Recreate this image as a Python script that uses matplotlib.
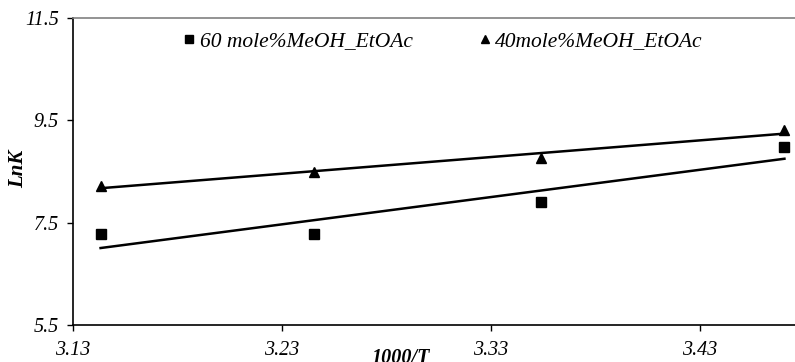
import numpy as np
import matplotlib
matplotlib.use('Agg')
import matplotlib.pyplot as plt

# data
inv_T = [3.1432, 3.2451, 3.3540, 3.4704]
lnk_60 = [7.27, 7.28, 7.90, 8.98]
lnk_40 = [8.22, 8.49, 8.76, 9.31]
x_ticks = [3.13, 3.23, 3.33, 3.43]
y_ticks = [5.5, 7.5, 9.5, 11.5]

plt.rcParams['font.family'] = 'Liberation Serif'

fig = plt.figure(figsize=(7.95, 3.62), dpi=100)
ax = fig.add_axes([73/795, 1-325/362, (795-73)/795, (325-18)/362])

ax.plot(inv_T, lnk_60, 's', color='black', markersize=7, label='60 mole%MeOH_EtOAc')
ax.plot(inv_T, lnk_40, '^', color='black', markersize=7, label='40mole%MeOH_EtOAc')

# linear trend lines
xx = np.array([inv_T[0], inv_T[-1]])
p60 = np.polyfit(inv_T, lnk_60, 1)
p40 = np.polyfit(inv_T, lnk_40, 1)
ax.plot(xx, np.polyval(p60, xx), color='black', lw=1.8)
ax.plot(xx, np.polyval(p40, xx), color='black', lw=1.8)

ax.set_xlim(3.13, 3.13 + (795-73)/2090)
ax.set_ylim(5.5, 11.5)
ax.set_xticks(x_ticks)
ax.set_yticks(y_ticks)
ax.set_xticklabels(['%.2f' % v for v in x_ticks], style='italic', fontsize=14.5)
ax.set_yticklabels(['%.1f' % v for v in y_ticks], style='italic', fontsize=14.5)
ax.tick_params(axis='y', direction='out', length=4.3, width=1, color='black', pad=6)
ax.tick_params(axis='x', direction='out', length=4.3, width=1, color='black', pad=7)
ax.spines['right'].set_visible(False)
ax.spines['top'].set_color('#808080')
ax.spines['top'].set_linewidth(1.2)
ax.spines['left'].set_linewidth(1.2)
ax.spines['bottom'].set_linewidth(1.2)

fig.text(18/795, 1-169/362, 'LnK', rotation=90, fontsize=15, fontweight='bold',
         style='italic', ha='center', va='center')
fig.text(401/795, 1-348/362, '1000/T', fontsize=14.5, fontweight='bold',
         style='italic', ha='center', va='top')

leg = ax.legend(loc='upper left', bbox_to_anchor=(91/722, 1.02), ncol=2, frameon=False,
                prop={'style': 'italic', 'size': 15.5}, handlelength=0.55, handletextpad=0.2,
                columnspacing=3.1, markerscale=0.75)

fig.savefig('out.png', dpi=100)
